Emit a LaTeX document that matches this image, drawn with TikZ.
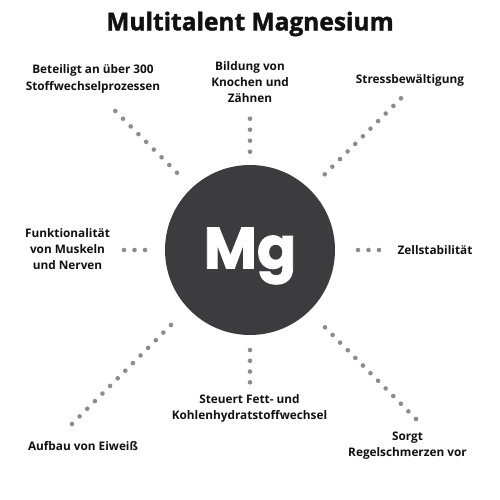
\documentclass[tikz,border=0pt]{standalone}
\usepackage{fontspec}
\setmainfont{Open Sans}
\newfontfamily\titlefont{Open Sans}[BoldFeatures={FakeBold=1.6}]
\newfontfamily\mgfont{Poppins}[BoldFeatures={FakeBold=1.5}]
\usetikzlibrary{calc}
\definecolor{dotgray}{HTML}{8C8C8C}
\definecolor{chalk}{HTML}{3C3B3D}
\definecolor{ink}{HTML}{111111}
\tikzset{
  lbl/.style={align=center,text=ink,font=\fontsize{11.8}{16.3}\selectfont\bfseries,inner sep=0pt},
  ttl/.style={text=ink,font=\titlefont\fontsize{24.5}{28}\selectfont\bfseries,inner sep=0pt},
}
\newcommand{\dotline}[3]{%
  \foreach \i in {0,...,#3}{\fill[dotgray] ($(#1)!\i/#3!(#2)$) circle (2.3);}}
\begin{document}
\begin{tikzpicture}[x=1pt,y=-1pt]
\useasboundingbox[fill=white] (0,0) rectangle (500,500);
\node[ttl] (title) at (250,24) {Multitalent Magnesium};
\node[circle,fill=chalk,minimum size=170,inner sep=0pt] (mg) at (250,250) {};
\node[text=white,font=\mgfont\fontsize{58}{58}\selectfont\bfseries,inner sep=0pt] (mgt) at (250,256) {Mg};

\node[lbl] (l1) at (93,79) {Beteiligt an über 300\\Stoffwechselprozessen};
\node[lbl] (l2) at (250,82) {Bildung von\\Knochen und\\Zähnen};
\node[lbl] (l3) at (410,80) {Stressbewältigung};
\node[lbl] (l4) at (67.5,249) {Funktionalität\\von Muskeln\\und Nerven};
\node[lbl] (l5) at (435,250) {Zellstabilität};
\node[lbl] (l6) at (83,446) {Aufbau von Eiweiß};
\node[lbl] (l7) at (249.5,408.5) {Steuert Fett- und\\Kohlenhydratstoffwechsel};
\node[lbl] (l8) at (407.5,445.5) {Sorgt\\Regelschmerzen vor};

\coordinate (a1) at (115.3,111); \coordinate (b1) at (177,172.7);
\coordinate (a2) at (250,118.7); \coordinate (b2) at (250,151.7);
\coordinate (a3) at (401,98.3);  \coordinate (b3) at (324.7,174.3);
\coordinate (a4) at (124,250);   \coordinate (b4) at (145,250);
\coordinate (a5) at (358,250);   \coordinate (b5) at (379,250);
\coordinate (a6) at (72,424);    \coordinate (b6) at (171,325);
\coordinate (a7) at (250,350);   \coordinate (b7) at (250,382.3);
\coordinate (a8) at (325,327.3); \coordinate (b8) at (416,419);
\dotline{a1}{b1}{8}
\dotline{a2}{b2}{3}
\dotline{a3}{b3}{10}
\dotline{a4}{b4}{2}
\dotline{a5}{b5}{2}
\dotline{a6}{b6}{13}
\dotline{a7}{b7}{3}
\dotline{a8}{b8}{12}
\end{tikzpicture}
\end{document}
